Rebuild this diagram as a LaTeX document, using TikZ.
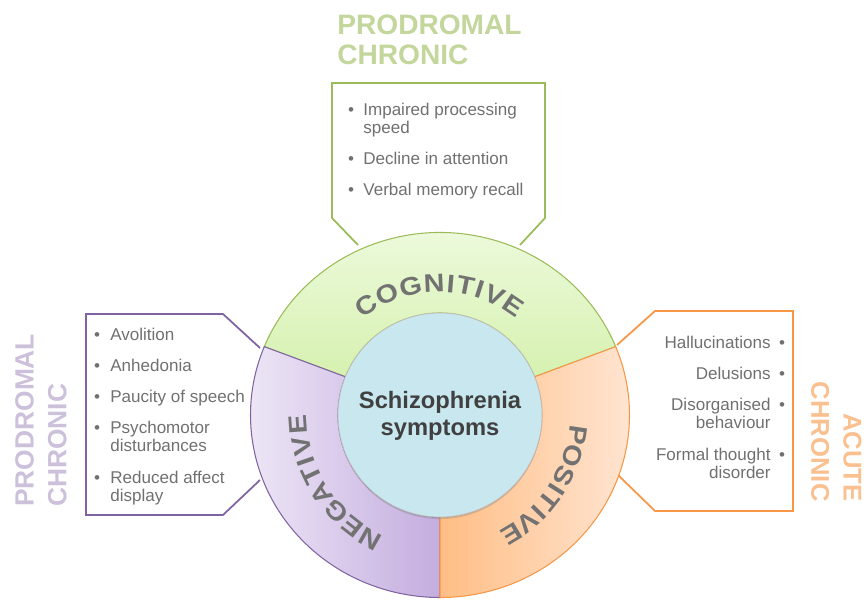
\documentclass[tikz,border=0pt]{standalone}
\usepackage{fontspec}
\setmainfont{Liberation Sans}
\usepackage{tikz}
\usetikzlibrary{shadows}
\definecolor{CogGreen}{HTML}{9BBB59}
\definecolor{CogTop}{HTML}{F0FBE2}
\definecolor{CogBottom}{HTML}{D6F1B0}
\definecolor{NegPurple}{HTML}{8064A2}
\definecolor{NegLeft}{HTML}{EFE9F7}
\definecolor{NegRight}{HTML}{C4ADDF}
\definecolor{PosOrange}{HTML}{F79646}
\definecolor{PosLeft}{HTML}{FFBE85}
\definecolor{PosRight}{HTML}{FFE6D4}
\definecolor{CoreBlue}{HTML}{C8E7EF}
\definecolor{CoreText}{HTML}{404040}
\definecolor{RingGray}{HTML}{727272}
\definecolor{TextGray}{HTML}{707070}
\definecolor{CogTitle}{HTML}{C3D69B}
\definecolor{NegTitle}{HTML}{CCC0DA}
\definecolor{PosTitle}{HTML}{FAC090}

\newcommand{\itemfont}{\fontsize{9.7}{10.8}\selectfont}
\newcommand{\ringfont}{\fontsize{14.5}{17}\selectfont\bfseries}
\newcommand{\titlefont}[2]{\fontsize{#1}{#2}\selectfont\bfseries}
\newcommand{\lcol}[1]{\begin{tabular}[t]{@{}l@{}}#1\end{tabular}}
\newcommand{\rcol}[1]{\begin{tabular}[t]{@{}r@{}}#1\end{tabular}}

\tikzset{
  entry/.style={font=\itemfont, text=TextGray, inner sep=0pt, anchor=base west},
  rentry/.style={entry, anchor=base east},
  dot/.style={font=\itemfont, text=TextGray, inner sep=0pt, anchor=base},
  title/.style={inner sep=0pt, align=left},
  letter/.style={font=\ringfont, text=RingGray, inner sep=0pt, anchor=base},
  box/.style={line width=1pt},
  segment/.style={line width=0.6pt}
}

\begin{document}
\begin{tikzpicture}[scale=0.02]
        \clip (-440,-186) rectangle (424,415);
        % Boxes behind the ring
        \draw [box, CogGreen] (-82,170) -- (-108,197) -- (-108,332) -- (105,332) -- (105,197) -- (80,170);
        \draw [box, NegPurple] (-180,67) -- (-217,101) -- (-354,101) -- (-354,-100) -- (-217,-100) -- (-180,-65);
        \draw [box, PosOrange] (177,70) -- (215,104) -- (353,104) -- (353,-96) -- (215,-96) -- (178,-60);
        % Ring segments
        \draw [segment, CogGreen, top color=CogTop, bottom color=CogBottom] (22:102) -- (22:189.5 and 182.5) arc [start angle=22, end angle=158, x radius=189.5, y radius=182.5] -- (158:102) arc [start angle=158, end angle=22, radius=102] -- cycle;
        \draw [segment, NegPurple, left color=NegLeft, right color=NegRight] (158:102) -- (158:189.5 and 182.5) arc [start angle=158, end angle=270, x radius=189.5, y radius=182.5] -- (270:102) arc [start angle=270, end angle=158, radius=102] -- cycle;
        \draw [segment, PosOrange, left color=PosLeft, right color=PosRight] (270:102) -- (270:189.5 and 182.5) arc [start angle=270, end angle=382, x radius=189.5, y radius=182.5] -- (22:102) arc [start angle=382, end angle=270, radius=102] -- cycle;
        % Core circle
        \filldraw [CoreBlue, draw=black!25, line width=0.4pt, drop shadow={shadow xshift=0pt, shadow yshift=-1.2pt, opacity=0.3}] (0,0) circle [radius=102];
        \node [font=\fontsize{13.5}{15.3}\selectfont\bfseries, text=CoreText, align=center] (core) at (0,-1) {Schizophrenia\\symptoms};
        % Curved segment labels, one (widened) letter at a time
        \foreach \ch/\a [count=\i] in {C/123.9, O/113.6, G/102.9, N/92.6, I/85.3, T/78.8, I/72.3, V/65.4, E/56.0}
            \node [letter, rotate=\a-90, xscale=1.13] (cogch\i) at (\a:123) {\ch};
        \foreach \ch/\a [count=\i] in {N/240.7, E/232.0, G/222.9, A/213.6, T/205.1, I/199.0, V/192.5, E/184.0}
            \node [letter, rotate=\a-90, xscale=1.13] (negch\i) at (\a:133) {\ch};
        \foreach \ch/\a [count=\i] in {P/-8.4, O/-17.3, S/-26.2, I/-32.5, T/-38.4, I/-44.4, V/-50.7, E/-59.0}
            \node [letter, rotate=\a-90, xscale=1.13] (posch\i) at (\a:130) {\ch};
        % Phase titles
        \node [title, CogTitle, font={\titlefont{16}{17}}, anchor=north west] (cogtitle) at (-103,400) {PRODROMAL\\CHRONIC};
        \node [title, NegTitle, font={\titlefont{15}{18.5}}, rotate=90, anchor=north west] (negtitle) at (-425,-92) {PRODROMAL\\CHRONIC};
        \node [title, PosTitle, font={\titlefont{14.6}{18.4}}, rotate=-90, anchor=north east, align=right] (postitle) at (422,-87) {ACUTE\\CHRONIC};
        % Cognitive symptoms
        \foreach \y [count=\i] in {300,251,220} \node [dot] (cogdot\i) at (-89,\y) {\textbullet};
        \node [entry] (cog1) at (-77,300) {\lcol{Impaired processing\\speed}};
        \node [entry] (cog2) at (-77,251) {Decline in attention};
        \node [entry] (cog3) at (-77,220) {Verbal memory recall};
        % Negative symptoms
        \foreach \y [count=\i] in {75,44,13,-18,-68} \node [dot] (negdot\i) at (-343,\y) {\textbullet};
        \node [entry] (neg1) at (-330,75) {Avolition};
        \node [entry] (neg2) at (-330,44) {Anhedonia};
        \node [entry] (neg3) at (-330,13) {Paucity of speech};
        \node [entry] (neg4) at (-330,-18) {\lcol{Psychomotor\\disturbances}};
        \node [entry] (neg5) at (-330,-68) {\lcol{Reduced affect\\display}};
        % Positive symptoms
        \foreach \y [count=\i] in {67,36,5,-45} \node [dot] (posdot\i) at (342,\y) {\textbullet};
        \node [rentry] (pos1) at (331,67) {Hallucinations};
        \node [rentry] (pos2) at (331,36) {Delusions};
        \node [rentry] (pos3) at (331,5) {\rcol{Disorganised\\behaviour}};
        \node [rentry] (pos4) at (331,-45) {\rcol{Formal thought\\disorder}};
    \end{tikzpicture}
\end{document}
